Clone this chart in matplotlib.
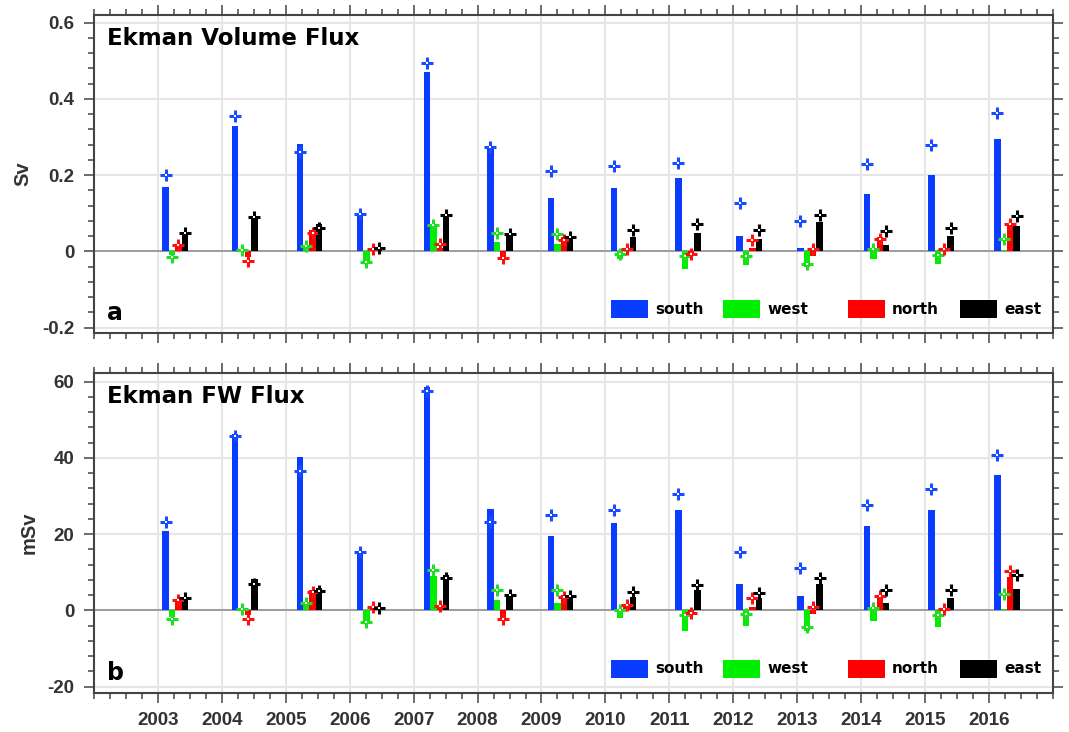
#!/usr/bin/env python3
"""Ekman volume / freshwater flux by section edge, 2003-2016."""

import matplotlib
matplotlib.use("Agg")
import matplotlib.pyplot as plt
import matplotlib.ticker as ticker
from matplotlib.patches import Rectangle

# ── Data ────────────────────────────────────────────────────────────────
years = list(range(2003, 2017))
# decimal-year position of each group's first (south) bar
grp_x = [2003.12, 2004.21, 2005.22, 2006.16, 2007.21, 2008.20, 2009.15,
         2010.13, 2011.14, 2012.10, 2013.05, 2014.09, 2015.10, 2016.13]
series = ["south", "west", "north", "east"]

# Ekman volume flux (Sv): bars
vol_south = [0.168, 0.328, 0.281, 0.097, 0.470, 0.270, 0.139, 0.165, 0.193, 0.040, 0.010, 0.150, 0.200, 0.296]
vol_west  = [-0.010, 0.003, 0.016, -0.024, 0.073, 0.025, 0.020, -0.020, -0.046, -0.035, -0.041, -0.019, -0.034, 0.004]
vol_north = [0.020, -0.015, 0.055, 0.007, 0.009, -0.015, 0.038, 0.008, -0.004, 0.010, -0.011, 0.038, 0.004, 0.073]
vol_east  = [0.042, 0.090, 0.073, 0.009, 0.090, 0.042, 0.038, 0.039, 0.049, 0.033, 0.078, 0.018, 0.040, 0.066]
# Ekman volume flux (Sv): cross markers
vol_south_m = [0.200, 0.354, 0.261, 0.097, 0.494, 0.275, 0.210, 0.223, 0.233, 0.128, 0.080, 0.228, 0.279, 0.362]
vol_west_m  = [-0.015, 0.003, 0.014, -0.028, 0.070, 0.049, 0.045, -0.006, -0.011, -0.012, -0.032, 0.007, -0.009, 0.033]
vol_north_m = [0.018, -0.024, 0.048, 0.007, 0.020, -0.017, 0.029, 0.007, -0.006, 0.029, 0.007, 0.033, 0.005, 0.073]
vol_east_m  = [0.048, 0.089, 0.061, 0.009, 0.096, 0.045, 0.038, 0.055, 0.073, 0.055, 0.096, 0.054, 0.062, 0.093]

# Ekman freshwater flux (mSv): bars
fw_south = [20.9, 46.2, 40.3, 15.2, 58.5, 26.7, 19.6, 22.9, 26.4, 6.8, 3.7, 22.0, 26.2, 35.4]
fw_west  = [-1.8, 0.3, 1.5, -3.5, 9.1, 2.8, 1.8, -2.0, -5.5, -4.0, -5.5, -2.8, -4.4, 0.4]
fw_north = [2.5, -1.3, 5.3, 0.5, 0.9, -2.6, 4.0, 1.5, -0.5, 0.9, -0.9, 3.1, 0.3, 8.8]
fw_east  = [3.3, 8.1, 5.9, 0.6, 9.2, 4.0, 3.7, 3.5, 5.3, 3.3, 6.9, 1.8, 3.3, 5.7]
# Ekman freshwater flux (mSv): cross markers
fw_south_m = [23.2, 45.8, 36.5, 15.2, 57.5, 23.2, 25.1, 26.4, 30.4, 15.2, 11.2, 27.7, 31.9, 40.8]
fw_west_m  = [-2.2, 0.4, 1.8, -3.1, 10.6, 5.3, 5.3, 0.0, -1.3, -0.9, -4.4, 0.7, -1.3, 4.2]
fw_north_m = [2.8, -2.2, 4.8, 0.9, 1.1, -2.2, 3.5, 1.3, -0.6, 3.1, 0.9, 3.7, 0.4, 10.4]
fw_east_m  = [3.3, 6.8, 5.0, 0.7, 8.6, 4.0, 3.7, 4.8, 6.6, 4.6, 8.4, 5.3, 5.3, 9.2]

# ── Style ───────────────────────────────────────────────────────────────
COLORS = ["#0a3cff", "#00ee00", "#ff0000", "#000000"]
MARK_COLORS = ["#1a4cff", "#22dd22", "#ff1010", "#000000"]
AXC = "#444444"
TXT = "#333333"
BAR_W = 0.1

plt.rcParams.update({
    "font.family": "DejaVu Sans",
    "axes.unicode_minus": False,
})
TICKFONT = dict(family="Liberation Sans", weight="bold", size=13.5)


def fmt(v, _):
    return f"{v:g}"


def draw_panel(ax, bars, marks, ylim, yticks, yminor, ylabel, ylabel_x, title, letter):
    for i, (vals, mvals) in enumerate(zip(bars, marks)):
        xs = [g + i * BAR_W for g in grp_x]
        ax.bar(xs, vals, BAR_W, color=COLORS[i], linewidth=0, zorder=3)
        ax.plot(xs, mvals, ls="none", marker="+", ms=8, mew=2.2,
                color=MARK_COLORS[i], zorder=4)
        ax.plot(xs, mvals, ls="none", marker="s", ms=1.6, mew=0,
                color="white", zorder=5)

    ax.axhline(0, color="#8a8a8a", lw=1.1, zorder=2)
    ax.set_xlim(2002, 2017)
    ax.set_ylim(*ylim)
    ax.set_xticks(years)
    ax.xaxis.set_minor_locator(ticker.MultipleLocator(0.25))
    ax.set_yticks(yticks)
    ax.yaxis.set_minor_locator(ticker.MultipleLocator(yminor))
    ax.yaxis.set_major_formatter(ticker.FuncFormatter(fmt))
    ax.grid(which="major", color="#e6e6e6", lw=1.5, zorder=0)
    ax.set_axisbelow(True)

    ax.tick_params(which="both", direction="out", top=True, right=True,
                   color=AXC, width=1.1, labelcolor=TXT)
    ax.tick_params(which="major", length=7, pad=7)
    ax.tick_params(which="minor", length=4)
    ax.tick_params(axis="y", labelright=False)
    for lab in ax.get_yticklabels() + ax.get_xticklabels():
        lab.set_fontproperties(TICKFONT)
    for sp in ax.spines.values():
        sp.set_color(AXC)
        sp.set_linewidth(1.5)

    ax.set_ylabel(ylabel, fontfamily="Liberation Sans", fontweight="bold",
                  fontsize=14.5, color=TXT)
    ax.yaxis.set_label_coords(ylabel_x, 0.5)

    ax.text(0.014, 0.925, title, transform=ax.transAxes, fontsize=16.5,
            fontweight="bold", va="center", ha="left", zorder=6)
    ax.text(0.014, 0.063, letter, transform=ax.transAxes, fontsize=17,
            fontweight="bold", va="center", ha="left", zorder=6)

    # legend boxes placed along the bottom right
    lefts = [0.539, 0.656, 0.786, 0.903]
    for x0, name, c in zip(lefts, series, COLORS):
        ax.add_patch(Rectangle((x0, 0.047), 0.0386, 0.056, transform=ax.transAxes,
                               color=c, lw=0, zorder=6))
        ax.text(x0 + 0.0386 + 0.0075, 0.075, name, transform=ax.transAxes,
                fontsize=11, fontweight="bold", va="center", ha="left", zorder=6)


fig = plt.figure(figsize=(10.69, 7.32), dpi=100)
ax1 = fig.add_axes([0.0879, 0.5451, 0.8971, 0.4344])
ax2 = fig.add_axes([0.0879, 0.0533, 0.8971, 0.4372])

draw_panel(ax1, [vol_south, vol_west, vol_north, vol_east],
           [vol_south_m, vol_west_m, vol_north_m, vol_east_m],
           (-0.214, 0.62), [-0.2, 0, 0.2, 0.4, 0.6], 0.04,
           "Sv", -0.064, "Ekman Volume Flux", "a")
ax1.tick_params(axis="x", labelbottom=False)

draw_panel(ax2, [fw_south, fw_west, fw_north, fw_east],
           [fw_south_m, fw_west_m, fw_north_m, fw_east_m],
           (-21.7, 62.3), [-20, 0, 20, 40, 60], 4,
           "mSv", -0.058, "Ekman FW Flux", "b")

fig.savefig("out.png", dpi=100, facecolor="white")
